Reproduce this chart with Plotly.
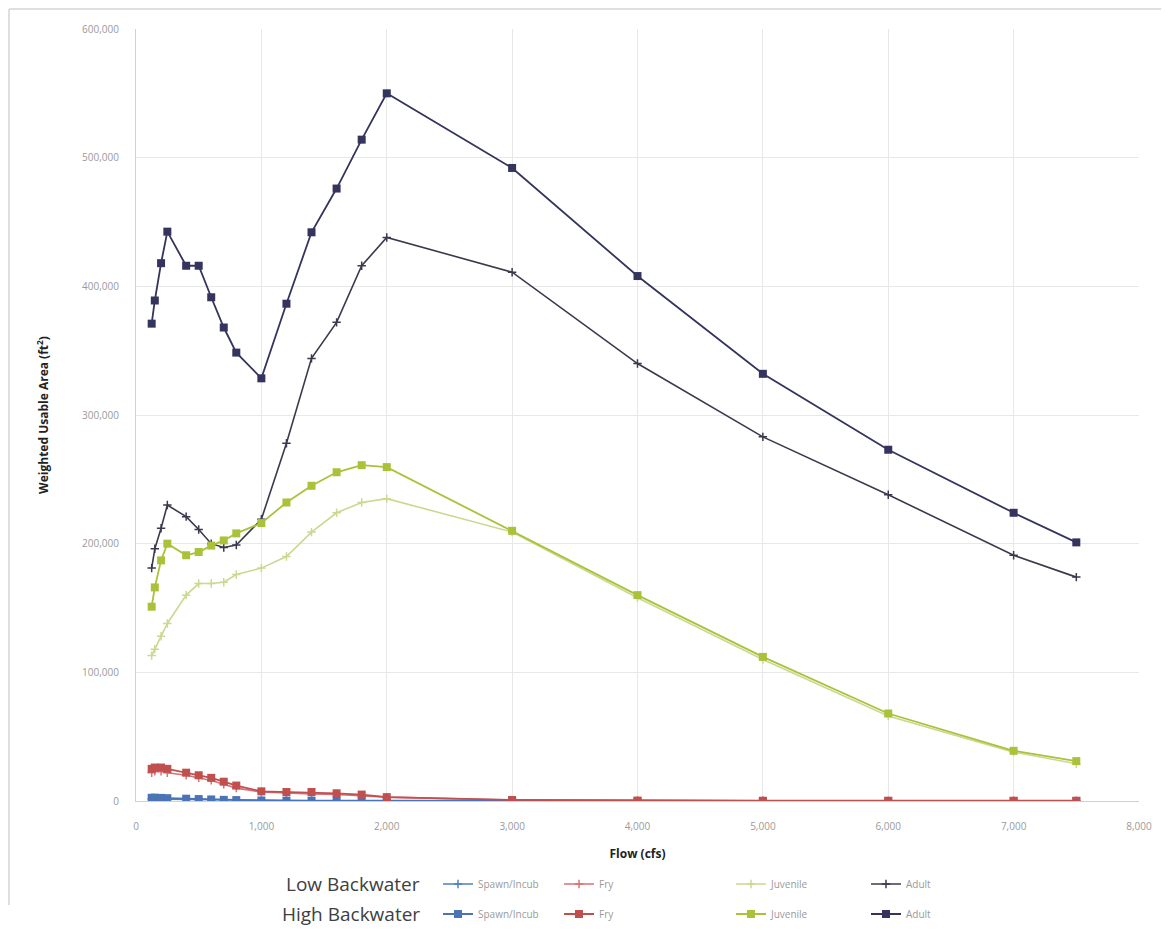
import plotly.graph_objects as go

flows = [125, 150, 200, 250, 400, 500, 600, 700, 800, 1000, 1200, 1400, 1600,
         1800, 2000, 3000, 4000, 5000, 6000, 7000, 7500]

low_spawn = [1500, 1600, 1500, 1400, 1200, 1000, 800, 600, 500, 300, 200, 200, 150,
             100, 100, 50, 0, 0, 0, 0, 0]
low_fry = [22000, 23000, 23000, 22000, 20000, 18000, 16000, 13000, 10000, 7000, 6000,
           5500, 5000, 4000, 3000, 700, 300, 200, 100, 100, 100]
low_juv = [113000, 118000, 128000, 138000, 160000, 169000, 169000, 170000, 176000,
           181000, 190000, 209000, 224000, 232000, 235000, 209000, 158000, 110000,
           66000, 38000, 29000]
low_adult = [181000, 196000, 212000, 230000, 221000, 211000, 200000, 197000, 199000,
             219000, 278000, 344000, 372000, 416000, 438000, 411000, 340000, 283000,
             238000, 191000, 174000]

high_spawn = [2500, 2600, 2400, 2200, 1800, 1500, 1200, 900, 700, 400, 300, 300, 250,
              200, 150, 100, 50, 0, 0, 0, 0]
high_fry = [25000, 26000, 26000, 25000, 22000, 20000, 18000, 15000, 12000, 7500, 7000,
            7000, 6000, 5000, 3000, 800, 300, 200, 200, 200, 200]
high_juv = [151000, 166000, 187000, 200000, 191000, 193500, 198500, 202500, 208000,
            216000, 232000, 245000, 255500, 261000, 259500, 210000, 160000, 112000,
            68000, 39000, 31000]
high_adult = [371000, 389000, 418000, 442500, 416000, 416000, 391500, 368000, 348500,
              328500, 386500, 442000, 476000, 514000, 550000, 492000, 408000, 332000,
              273000, 224000, 201000]

series_names = ["Spawn/Incub", "Fry", "Juvenile", "Adult"]
low_colors = ["#4f81bd", "#d9707a", "#c9d98f", "#3a3a4e"]
high_colors = ["#4a74b5", "#c0504d", "#a9c23a", "#34345e"]

low_data = [low_spawn, low_fry, low_juv, low_adult]
high_data = [high_spawn, high_fry, high_juv, high_adult]

# page offset (browser body margin) and figure geometry
OFF = 8
W, H = 1169, 934
L, R, T, B = 128, 38, 21, 141
pw, ph = W - L - R, H - T - B


def px2x(px):
    return (px - OFF - L) / pw


def py2y(py):
    return (H - B - (py - OFF)) / ph


col_px = [438, 559, 731, 866]
low_row_py, high_row_py = 884, 914

fig = go.Figure()
layout_legends = {}
legend_font = dict(family="Open Sans", size=10, color="#9a9a9a")
for i, name in enumerate(series_names):
    lname = "legend" if i == 0 else f"legend{i + 1}"
    fig.add_trace(go.Scatter(
        x=flows, y=low_data[i], mode="lines+markers", name=name,
        line=dict(color=low_colors[i], width=1.6),
        marker=dict(symbol="cross-thin", size=6, line=dict(color=low_colors[i], width=1.5)),
        legend=lname))
    layout_legends[lname] = dict(x=px2x(col_px[i]), y=py2y(low_row_py), xanchor="left",
                                 yanchor="middle", bgcolor="rgba(0,0,0,0)",
                                 font=legend_font, itemwidth=30)
for i, name in enumerate(series_names):
    lname = f"legend{i + 5}"
    fig.add_trace(go.Scatter(
        x=flows, y=high_data[i], mode="lines+markers", name=name,
        line=dict(color=high_colors[i], width=1.8),
        marker=dict(symbol="square", size=8, color=high_colors[i]),
        legend=lname))
    layout_legends[lname] = dict(x=px2x(col_px[i]), y=py2y(high_row_py), xanchor="left",
                                 yanchor="middle", bgcolor="rgba(0,0,0,0)",
                                 font=legend_font, itemwidth=30)

fig.update_layout(
    width=W, height=H,
    margin=dict(l=L, r=R, t=T, b=B, autoexpand=False),
    paper_bgcolor="white", plot_bgcolor="white",
    showlegend=True,
    font=dict(family="Open Sans", color="#555555"),
    **layout_legends,
)

fig.update_xaxes(
    range=[0, 8000], tickvals=list(range(0, 8001, 1000)),
    tickformat=",d", showgrid=True, gridcolor="#e8e8e8", gridwidth=1,
    zeroline=False, showline=True, linecolor="#d0d0d0",
    tickfont=dict(family="Open Sans", size=10, color="#9a9a9a"),
    ticks="", ticklabelstandoff=16,
    title=dict(text="<b>Flow (cfs)</b>", font=dict(family="Open Sans", size=12, color="#222222"),
               standoff=17),
    automargin=False,
)
fig.update_yaxes(
    range=[0, 600000], tickvals=list(range(0, 600001, 100000)),
    tickformat=",d", showgrid=True, gridcolor="#e8e8e8", gridwidth=1,
    zeroline=True, zerolinecolor="#c8c8c8", showline=True, linecolor="#d0d0d0",
    tickfont=dict(family="Open Sans", size=10, color="#9a9a9a"),
    ticks="", ticklabelstandoff=14,
    title=dict(text="<b>Weighted Usable Area (ft<sup>2</sup>)</b>",
               font=dict(family="Open Sans", size=12, color="#222222"), standoff=30),
    automargin=False,
)

for txt, py in [("Low Backwater", low_row_py), ("High Backwater", high_row_py)]:
    fig.add_annotation(text=txt, xref="paper", yref="paper", x=px2x(422), y=py2y(py),
                       xanchor="right", yanchor="middle", showarrow=False,
                       font=dict(family="Open Sans", size=19, color="#404040"))

# outer chart frame (top and left edges)
fig.add_shape(type="line", xref="paper", yref="paper", x0=px2x(9), x1=px2x(1165),
              y0=py2y(9), y1=py2y(9), line=dict(color="#d4d4d4", width=1.5))
fig.add_shape(type="line", xref="paper", yref="paper", x0=px2x(9), x1=px2x(9),
              y0=py2y(9), y1=py2y(905), line=dict(color="#d4d4d4", width=1.5))

fig.write_html("out.html")
